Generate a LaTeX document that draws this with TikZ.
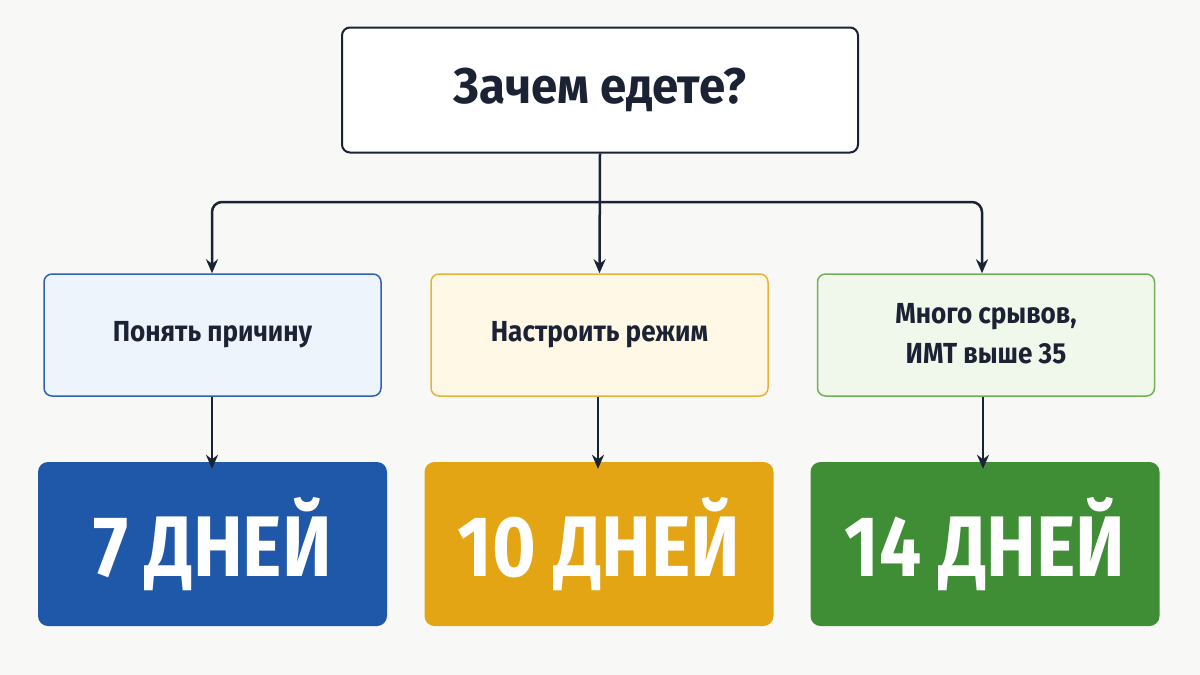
\documentclass[tikz,border=0pt]{standalone}
\usepackage{fontspec}
\setmainfont{Fira Sans}
\usetikzlibrary{arrows.meta}
\definecolor{bg}{HTML}{F8F8F6}
\definecolor{ink}{HTML}{1A2233}
\definecolor{bluef}{HTML}{EEF4FC}\definecolor{blueb}{HTML}{2F62B0}\definecolor{blued}{HTML}{1F58A8}
\definecolor{yelf}{HTML}{FFF8E6}\definecolor{yelb}{HTML}{E5B438}\definecolor{yeld}{HTML}{E3A514}
\definecolor{grnf}{HTML}{F0F7EB}\definecolor{grnb}{HTML}{72B05A}\definecolor{grnd}{HTML}{3F8E36}
\begin{document}
\begin{tikzpicture}[x=1pt,y=-1pt,
  mid/.style={draw=#1,line width=1.5pt,rounded corners=8pt,minimum width=337pt,minimum height=122pt,align=center,font=\bfseries\fontsize{29}{40}\selectfont,text=ink},
  big/.style={fill=#1,rounded corners=10pt,minimum width=349pt,minimum height=164pt,text=white,font=\bfseries\fontsize{86}{90}\selectfont},
  arr/.style={draw=ink,line width=2.5pt,-{Stealth[length=14pt,width=12pt]}}]
\fill[bg] (0,0) rectangle (1200,675);
\node[draw=ink,line width=2pt,fill=white,rounded corners=8pt,minimum width=516pt,minimum height=125pt,text=ink,font=\bfseries\fontsize{50}{56}\selectfont] (top) at (600,90) {\scalebox{0.95}[1]{Зачем едете?}};
\node[mid=blueb,fill=bluef] (m1) at (212.5,335) {\scalebox{0.9}[1]{Понять причину}};
\node[mid=yelb,fill=yelf] (m2) at (599.5,335) {\scalebox{0.9}[1]{Настроить режим}};
\node[mid=grnb,fill=grnf] (m3) at (986,335) {\scalebox{0.9}[1]{\begin{tabular}{@{}c@{}}Много срывов,\\ИМТ выше 35\end{tabular}}};
\node[big=blued] (b1) at (212.5,544) {\scalebox{0.87}[1]{7 ДНЕЙ}};
\node[big=yeld] (b2) at (599,544) {\scalebox{0.87}[1]{10 ДНЕЙ}};
\node[big=grnd] (b3) at (985,544) {\scalebox{0.87}[1]{14 ДНЕЙ}};
\coordinate (j) at (600,202);
\draw[arr] (top.south) -- (m2.north);
\draw[arr,rounded corners=10pt] (j) -- (212,202) -- (m1.north -| 212,0);
\draw[arr,rounded corners=10pt] (j) -- (982,202) -- (m3.north -| 982,0);
\draw[arr] (m1.south -| 212,0) -- ([yshift=-7pt]b1.north -| 212,0);
\draw[arr] (m2.south -| 598,0) -- ([yshift=-7pt]b2.north -| 598,0);
\draw[arr] (m3.south -| 983,0) -- ([yshift=-7pt]b3.north -| 983,0);
\end{tikzpicture}
\end{document}
